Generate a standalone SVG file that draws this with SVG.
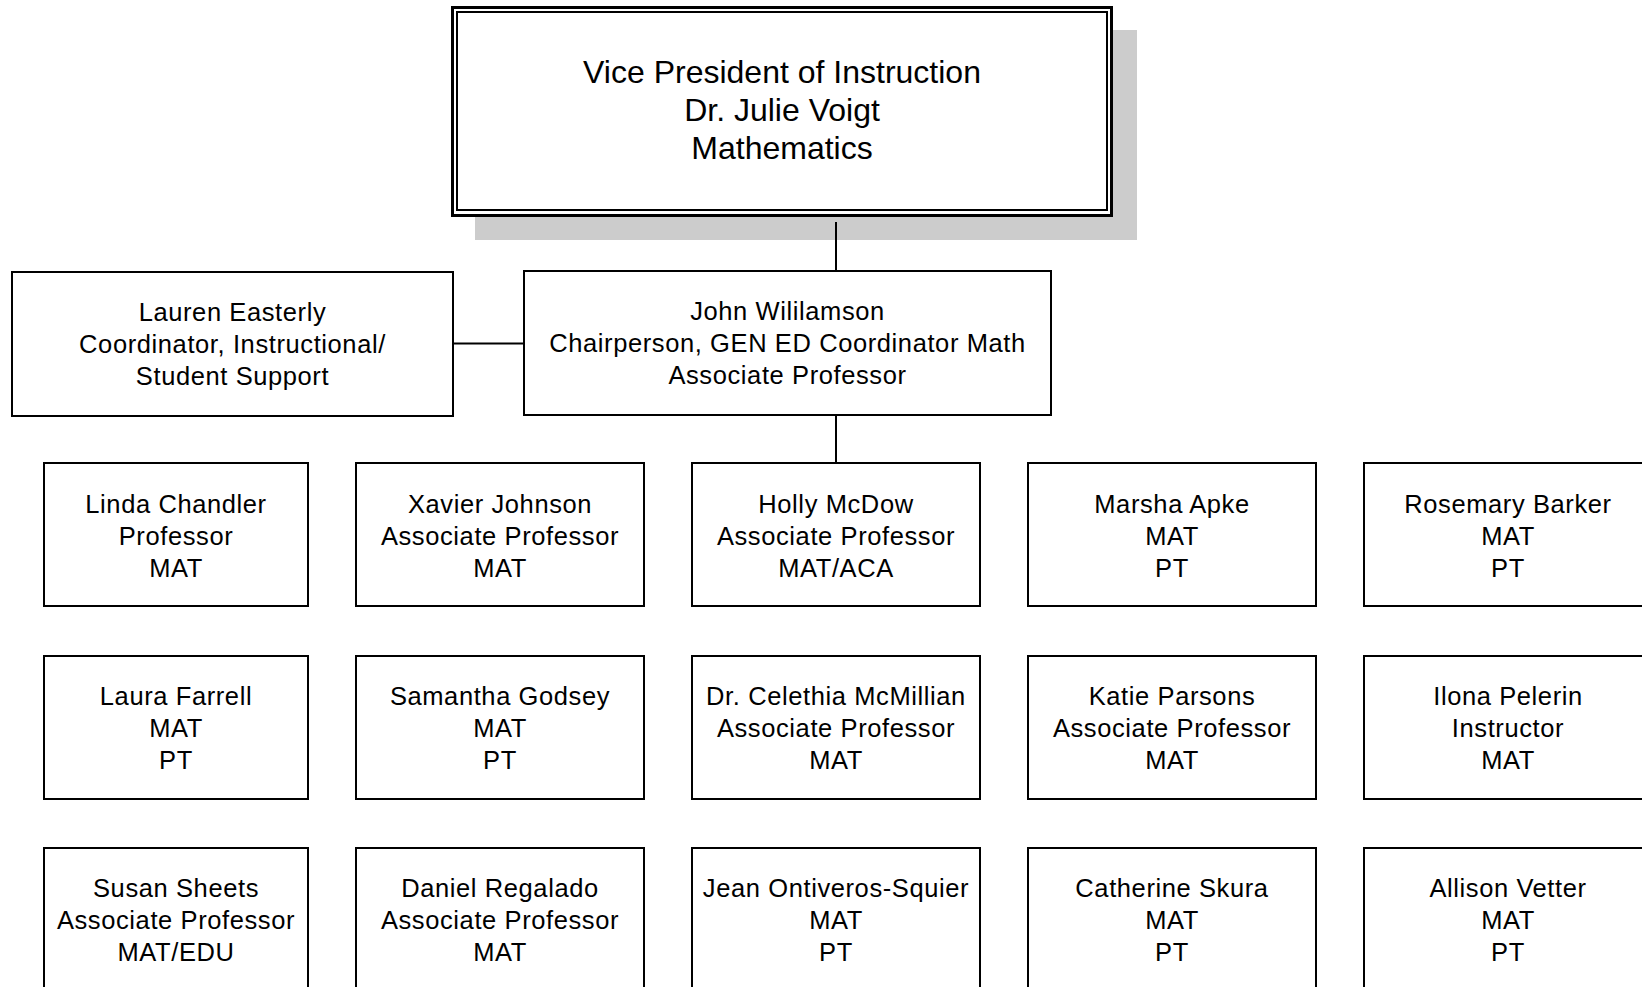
<svg xmlns="http://www.w3.org/2000/svg" width="1642" height="987" viewBox="0 0 1642 987">
<style>
.box{fill:#fff;stroke:#000;stroke-width:2}
.t{font-family:"Liberation Sans",Arial,sans-serif;font-size:25.5px;letter-spacing:0.6px;fill:#000;text-anchor:middle}
.tt{font-family:"Liberation Sans",Arial,sans-serif;font-size:32px;fill:#000;text-anchor:middle}
.ln{stroke:#000;stroke-width:2;fill:none}
</style>
<rect x="0" y="0" width="1642" height="987" fill="#fff"/>
<g id="vp">
<rect x="475" y="30" width="662" height="210" fill="#cccccc"/>
<rect x="452.5" y="7.5" width="659" height="208" fill="#fff" stroke="#000" stroke-width="3"/>
<rect x="457" y="12" width="650" height="198" fill="none" stroke="#000" stroke-width="2"/>
<text class="tt" x="782" y="83">Vice President of Instruction</text>
<text class="tt" x="782" y="121">Dr. Julie Voigt</text>
<text class="tt" x="782" y="159">Mathematics</text>
</g>
<g id="connectors">
<line class="ln" x1="836" y1="222" x2="836" y2="271"/>
<line class="ln" x1="453" y1="343.5" x2="524" y2="343.5"/>
<line class="ln" x1="836" y1="415" x2="836" y2="463"/>
</g>
<g id="lauren">
<rect class="box" x="12" y="272" width="441" height="144"/>
<text class="t" x="232.5" y="321">Lauren Easterly</text>
<text class="t" x="232.5" y="353">Coordinator, Instructional/</text>
<text class="t" x="232.5" y="385">Student Support</text>
</g>
<g id="john">
<rect class="box" x="524" y="271" width="527" height="144"/>
<text class="t" x="787.5" y="320">John Wililamson</text>
<text class="t" x="787.5" y="352">Chairperson, GEN ED Coordinator Math</text>
<text class="t" x="787.5" y="384">Associate Professor</text>
</g>
<g id="chandler">
<rect class="box" x="44" y="463" width="264" height="143"/>
<text class="t" x="176" y="513">Linda Chandler</text>
<text class="t" x="176" y="545">Professor</text>
<text class="t" x="176" y="577">MAT</text>
</g>
<g id="johnson">
<rect class="box" x="356" y="463" width="288" height="143"/>
<text class="t" x="500" y="513">Xavier Johnson</text>
<text class="t" x="500" y="545">Associate Professor</text>
<text class="t" x="500" y="577">MAT</text>
</g>
<g id="mcdow">
<rect class="box" x="692" y="463" width="288" height="143"/>
<text class="t" x="836" y="513">Holly McDow</text>
<text class="t" x="836" y="545">Associate Professor</text>
<text class="t" x="836" y="577">MAT/ACA</text>
</g>
<g id="apke">
<rect class="box" x="1028" y="463" width="288" height="143"/>
<text class="t" x="1172" y="513">Marsha Apke</text>
<text class="t" x="1172" y="545">MAT</text>
<text class="t" x="1172" y="577">PT</text>
</g>
<g id="barker">
<rect class="box" x="1364" y="463" width="288" height="143"/>
<text class="t" x="1508" y="513">Rosemary Barker</text>
<text class="t" x="1508" y="545">MAT</text>
<text class="t" x="1508" y="577">PT</text>
</g>
<g id="farrell">
<rect class="box" x="44" y="656" width="264" height="143"/>
<text class="t" x="176" y="705">Laura Farrell</text>
<text class="t" x="176" y="737">MAT</text>
<text class="t" x="176" y="769">PT</text>
</g>
<g id="godsey">
<rect class="box" x="356" y="656" width="288" height="143"/>
<text class="t" x="500" y="705">Samantha Godsey</text>
<text class="t" x="500" y="737">MAT</text>
<text class="t" x="500" y="769">PT</text>
</g>
<g id="mcmillian">
<rect class="box" x="692" y="656" width="288" height="143"/>
<text class="t" x="836" y="705">Dr. Celethia McMillian</text>
<text class="t" x="836" y="737">Associate Professor</text>
<text class="t" x="836" y="769">MAT</text>
</g>
<g id="parsons">
<rect class="box" x="1028" y="656" width="288" height="143"/>
<text class="t" x="1172" y="705">Katie Parsons</text>
<text class="t" x="1172" y="737">Associate Professor</text>
<text class="t" x="1172" y="769">MAT</text>
</g>
<g id="pelerin">
<rect class="box" x="1364" y="656" width="288" height="143"/>
<text class="t" x="1508" y="705">Ilona Pelerin</text>
<text class="t" x="1508" y="737">Instructor</text>
<text class="t" x="1508" y="769">MAT</text>
</g>
<g id="sheets">
<rect class="box" x="44" y="848" width="264" height="143"/>
<text class="t" x="176" y="897">Susan Sheets</text>
<text class="t" x="176" y="929">Associate Professor</text>
<text class="t" x="176" y="961">MAT/EDU</text>
</g>
<g id="regalado">
<rect class="box" x="356" y="848" width="288" height="143"/>
<text class="t" x="500" y="897">Daniel Regalado</text>
<text class="t" x="500" y="929">Associate Professor</text>
<text class="t" x="500" y="961">MAT</text>
</g>
<g id="ontiveros">
<rect class="box" x="692" y="848" width="288" height="143"/>
<text class="t" x="836" y="897">Jean Ontiveros-Squier</text>
<text class="t" x="836" y="929">MAT</text>
<text class="t" x="836" y="961">PT</text>
</g>
<g id="skura">
<rect class="box" x="1028" y="848" width="288" height="143"/>
<text class="t" x="1172" y="897">Catherine Skura</text>
<text class="t" x="1172" y="929">MAT</text>
<text class="t" x="1172" y="961">PT</text>
</g>
<g id="vetter">
<rect class="box" x="1364" y="848" width="288" height="143"/>
<text class="t" x="1508" y="897">Allison Vetter</text>
<text class="t" x="1508" y="929">MAT</text>
<text class="t" x="1508" y="961">PT</text>
</g>
</svg>
